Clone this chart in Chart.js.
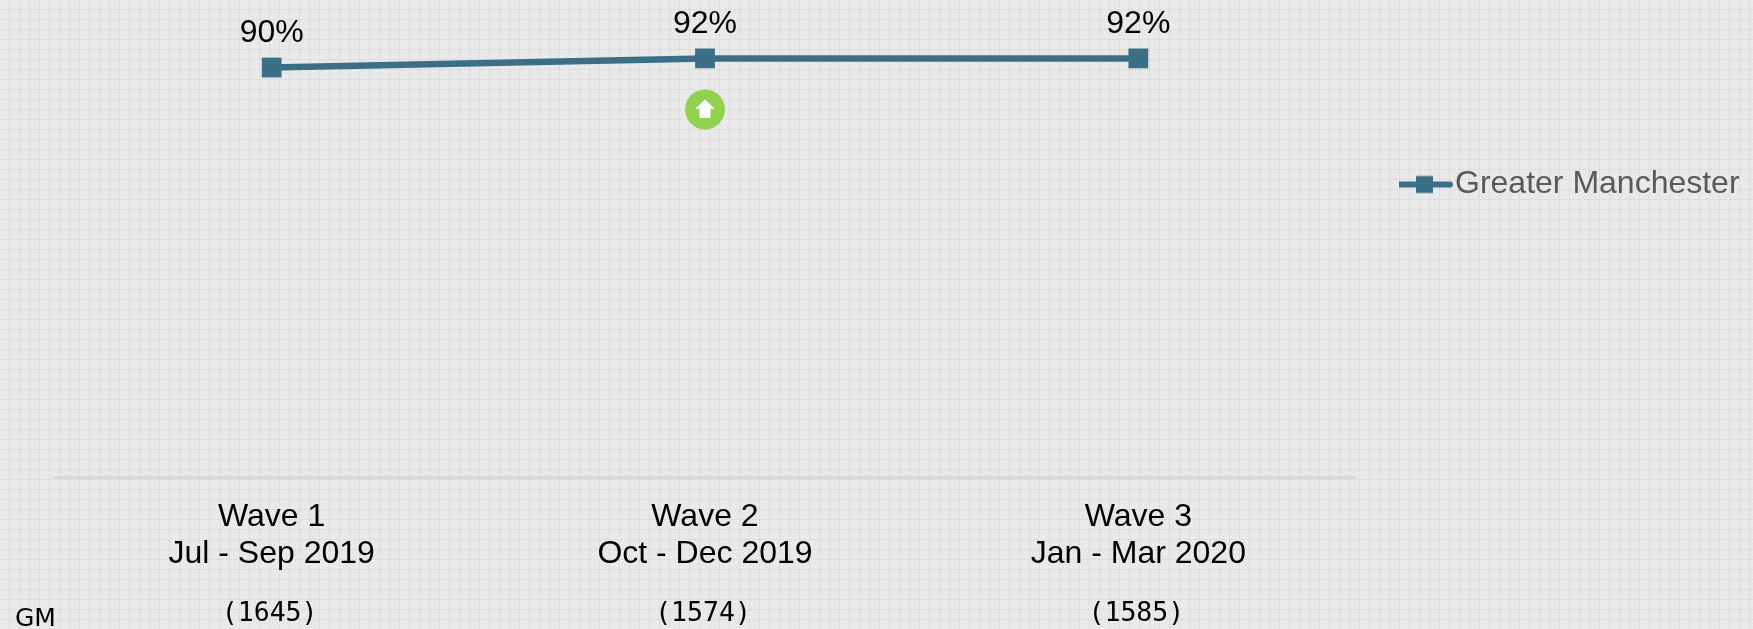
<!DOCTYPE html>
<html>
<head>
<meta charset="utf-8">
<style>html,body{margin:0;padding:0;background:#e9e9e9;overflow:hidden}canvas{display:block}</style>
<script src="https://cdn.jsdelivr.net/npm/chart.js@4"></script>
</head>
<body>
<canvas id="c" width="1753" height="629"></canvas>
<script>
const waves = ['Wave 1', 'Wave 2', 'Wave 3'];
const periods = ['Jul - Sep 2019', 'Oct - Dec 2019', 'Jan - Mar 2020'];
const sampleSizes = ['(1645)', '(1574)', '(1585)'];
const rowLabel = 'GM';
const seriesName = 'Greater Manchester';
const values = [90, 92, 92];
const changeMarks = [null, 'up', null];

const LINE = '#3a6f87';
const SANS = '"Liberation Sans", Arial, sans-serif';

function makeTile() {
  const t = document.createElement('canvas');
  t.width = 10; t.height = 10;
  const g = t.getContext('2d');
  g.fillStyle = '#ececec'; g.fillRect(0, 0, 10, 10);
  g.fillStyle = '#e7e7e7';
  for (let y = 0; y < 10; y += 2) for (let x = 0; x < 10; x += 2) {
    if (((x + y) / 2) % 2 === 0) g.fillRect(x, y, 2, 2);
  }
  g.fillStyle = '#dedede';
  g.fillRect(9, 0, 1, 10);
  g.fillRect(0, 9, 10, 1);
  return t;
}

function makeLegendGlyph() {
  const k = document.createElement('canvas');
  k.width = 80; k.height = 30;
  const g = k.getContext('2d');
  g.strokeStyle = LINE; g.lineWidth = 6; g.lineCap = 'round';
  g.beginPath(); g.moveTo(19.5, 15); g.lineTo(71, 15); g.stroke();
  g.fillStyle = LINE; g.fillRect(37, 6.5, 17, 17);
  return k;
}

const backgroundPlugin = {
  id: 'texture',
  beforeDraw(chart) {
    const ctx = chart.ctx;
    ctx.save();
    ctx.fillStyle = ctx.createPattern(makeTile(), 'repeat');
    ctx.fillRect(0, 0, chart.width, chart.height);
    ctx.restore();
  }
};

const placeLegendPlugin = {
  id: 'placeLegend',
  afterLayout(chart) {
    const l = chart.legend;
    l.left = 1399; l.right = 1753; l.top = 168.5; l.bottom = 208;
    l.width = l.right - l.left; l.height = l.bottom - l.top;
  }
};

const annotationPlugin = {
  id: 'annotations',
  afterDatasetsDraw(chart) {
    const ctx = chart.ctx, xs = chart.scales.x, ys = chart.scales.y;
    ctx.save();
    ctx.textAlign = 'center';
    ctx.textBaseline = 'middle';
    values.forEach((v, i) => {
      const x = xs.getPixelForValue(i), y = ys.getPixelForValue(v);
      ctx.fillStyle = '#000';
      ctx.font = '32px ' + SANS;
      ctx.fillText(v + '%', x, y - 34);
      if (changeMarks[i] === 'up') {
        const cy = y + 51;
        ctx.fillStyle = '#92d050';
        ctx.beginPath(); ctx.arc(x, cy, 20, 0, Math.PI * 2); ctx.fill();
        ctx.fillStyle = '#fff';
        ctx.beginPath();
        ctx.moveTo(x, cy - 10);
        ctx.lineTo(x + 9.7, cy - 0.7);
        ctx.lineTo(x + 5.5, cy - 0.7);
        ctx.lineTo(x + 5.5, cy + 8.7);
        ctx.lineTo(x - 5.5, cy + 8.7);
        ctx.lineTo(x - 5.5, cy - 0.7);
        ctx.lineTo(x - 9.7, cy - 0.7);
        ctx.closePath(); ctx.fill();
      }
      ctx.fillStyle = '#000';
      ctx.font = '26.5px "DejaVu Sans Mono", monospace';
      ctx.fillText(sampleSizes[i], x - 2, 614);
    });
    ctx.textAlign = 'left';
    ctx.font = '25px "DejaVu Sans", Verdana, sans-serif';
    ctx.fillStyle = '#000';
    ctx.fillText(rowLabel, 15, 619);
    ctx.restore();
  }
};

new Chart(document.getElementById('c'), {
  type: 'line',
  data: {
    labels: waves.map((w, i) => [w, periods[i]]),
    datasets: [{
      label: seriesName,
      data: values,
      borderColor: LINE,
      backgroundColor: LINE,
      borderWidth: 6.5,
      tension: 0,
      fill: false,
      pointStyle: 'rect',
      pointRadius: 14,
      pointBorderWidth: 0,
      pointBackgroundColor: LINE
    }]
  },
  options: {
    responsive: false,
    animation: false,
    devicePixelRatio: 1,
    layout: { padding: { left: 55, right: 398, top: 22, bottom: 0 } },
    scales: {
      x: {
        offset: true,
        afterFit(s) { s.height = 152; },
        grid: { display: false },
        border: { display: true, color: '#d9d9d9', width: 3 },
        ticks: {
          color: '#000',
          font: { family: SANS, size: 32, lineHeight: 1.17 },
          padding: 13,
          maxRotation: 0,
          autoSkip: false
        }
      },
      y: { display: false, min: 0, max: 100 }
    },
    plugins: {
      legend: {
        display: true,
        position: 'chartArea',
        align: 'start',
        labels: {
          usePointStyle: true,
          pointStyle: makeLegendGlyph(),
          pointStyleWidth: 40,
          color: '#595959',
          font: { family: SANS, size: 32 },
          padding: 0
        }
      },
      tooltip: { enabled: false }
    }
  },
  plugins: [backgroundPlugin, placeLegendPlugin, annotationPlugin]
});
</script>
</body>
</html>
